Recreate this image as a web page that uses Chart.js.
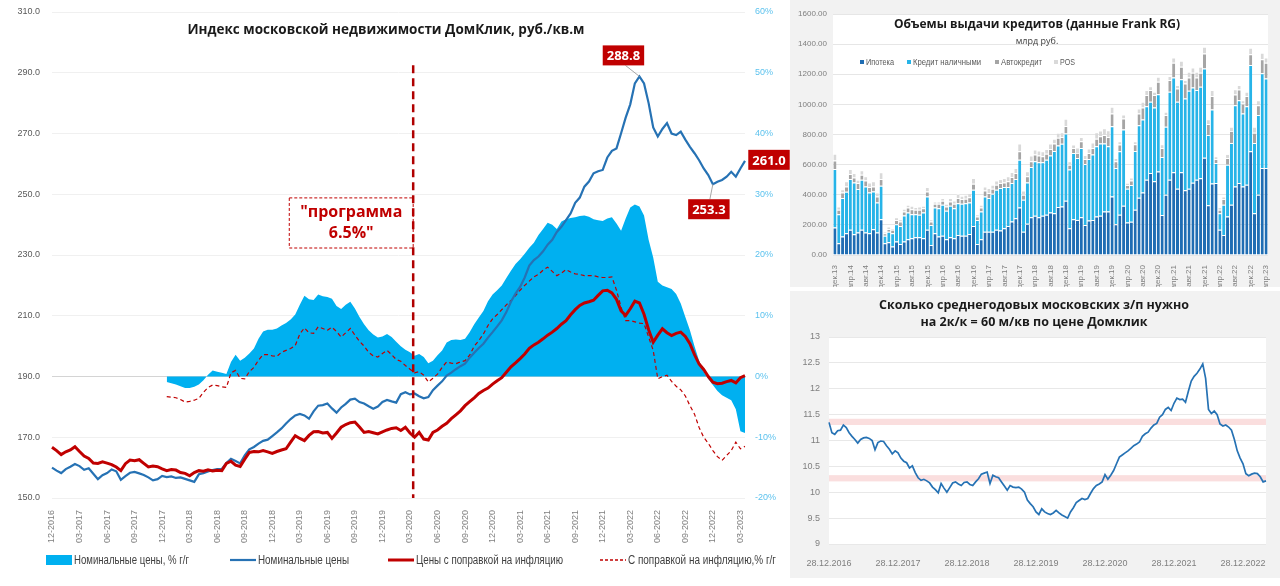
<!DOCTYPE html>
<html lang="ru"><head><meta charset="utf-8">
<script src="https://cdn.jsdelivr.net/npm/chart.js@4.4.0/dist/chart.umd.min.js"></script>
<style>
html,body{margin:0;padding:0;background:#fff;}
body{width:1280px;height:586px;position:relative;overflow:hidden;}
.box{position:absolute;}
#w1{left:0;top:0;width:790px;height:586px;}
#w2{left:790px;top:0;width:490px;height:287px;background:#f2f2f2;}
#w3{left:790px;top:291px;width:490px;height:287px;background:#f2f2f2;}
</style></head><body>
<div class="box" id="w1"><canvas id="c1" width="790" height="586"></canvas></div>
<div class="box" id="w2"><canvas id="c2" width="490" height="287"></canvas></div>
<div class="box" id="w3"><canvas id="c3" width="490" height="287"></canvas></div>
<script>
// ---------------- DATA: Moscow real estate index (half-month steps from Dec 2016) ----------------
const quarterTicks = ['12-2016','03-2017','06-2017','09-2017','12-2017','03-2018','06-2018','09-2018','12-2018','03-2019','06-2019','09-2019','12-2019','03-2020','06-2020','09-2020','12-2020','03-2021','06-2021','09-2021','12-2021','03-2022','06-2022','09-2022','12-2022','03-2023'];
const nominalPrice = [160.0,159.0,158.2,159.5,160.3,161.2,160.5,159.3,159.8,158.0,156.2,157.5,
158.2,159.4,158.8,156.0,157.2,158.3,158.6,158.1,157.6,156.8,155.8,156.2,157.3,156.9,157.1,156.6,156.8,156.3,155.8,155.3,157.8,158.2,158.7,
159.2,159.5,159.6,161.5,162.9,162.2,161.4,164.0,166.0,166.8,167.9,168.8,169.2,170.4,171.6,172.9,174.5,176.0,177.2,177.7,177.2,176.1,178.5,
180.4,180.6,181.1,179.5,178.1,179.8,181.0,182.4,182.7,181.6,181.1,180.2,179.4,180.1,181.6,182.3,181.8,181.4,184.2,184.8,184.1,184.4,183.5,
182.8,183.2,185.5,187.0,188.4,190.3,191.3,192.4,193.4,194.2,196.2,197.8,199.4,200.8,202.8,204.6,206.5,208.5,211.2,214.6,217.3,219.5,222.6,
226.5,228.3,229.5,231.2,233.4,235.0,237.6,239.3,241.5,243.7,247.2,248.9,252.5,254.2,256.9,257.6,258.0,262.1,264.3,265.1,270.1,275.2,279.6,
286.5,288.8,286.5,280.0,272.0,269.0,271.5,273.4,270.0,269.5,270.6,268.0,265.6,263.5,261.2,258.5,256.3,253.3,254.1,254.7,255.8,257.4,255.8,
258.5,261.0];
const realPrice = [166.7,165.6,164.3,165.2,165.8,166.9,165.3,163.8,163.0,161.5,161.4,161.9,
161.5,161.0,160.2,159.0,161.3,162.5,162.3,162.6,161.4,160.2,160.5,160.3,159.6,159.0,159.4,159.2,158.4,158.1,157.3,158.4,159.0,158.8,159.3,
158.9,159.1,159.0,161.4,162.1,160.8,160.4,162.8,165.0,165.3,165.2,165.6,165.2,164.7,165.3,165.8,166.2,168.4,170.5,169.6,168.9,170.6,171.8,
171.9,171.4,171.6,169.6,171.4,173.3,174.2,174.8,175.0,173.4,171.6,171.9,171.5,171.1,171.8,172.4,172.9,173.1,172.2,173.3,171.4,170.0,171.6,
169.4,169.1,171.6,172.4,173.6,174.6,176.1,177.4,178.7,180.4,181.7,183.0,184.4,185.4,186.2,187.5,188.6,189.6,191.4,193.2,194.5,195.9,197.4,
199.3,200.4,201.3,202.4,203.6,204.6,205.8,207.2,208.4,210.3,212.0,213.4,214.2,214.6,215.1,216.7,218.2,218.4,217.5,215.4,211.6,210.1,212.3,
214.8,214.2,210.5,205.4,201.3,203.6,205.7,204.4,203.5,204.2,204.6,203.2,200.8,197.2,194.1,192.3,190.0,188.1,187.6,187.8,188.3,188.7,187.9,
189.6,190.3];
const nominalYoY = [null,null,null,null,null,null,null,null,null,null,null,null,null,null,null,null,null,null,null,null,null,null,null,null,
null,-0.9,-1.1,-1.3,-1.6,-1.9,-1.9,-1.7,-1.3,-0.6,0.3,
1.0,0.8,0.6,0.4,2.4,3.6,2.6,3.1,3.8,4.6,6.2,7.4,7.7,7.7,7.9,8.4,8.8,9.4,10.2,11.8,13.3,12.7,12.6,
13.5,13.2,13.1,12.8,11.6,11.1,11.8,12.3,11.2,9.8,8.6,7.6,6.9,6.4,6.6,7.0,6.5,5.7,5.0,4.4,4.0,3.4,3.7,
3.2,2.2,2.6,3.5,4.3,5.6,6.0,6.1,6.0,6.2,7.3,8.6,9.7,10.8,12.4,13.5,14.2,15.0,16.2,17.4,18.5,19.3,20.2,
21.2,22.0,23.3,24.3,25.3,25.0,24.3,25.5,25.9,26.1,26.2,26.4,26.5,26.3,25.9,25.7,25.6,26.0,26.2,25.2,24.0,26.0,27.8,
28.3,28.0,26.5,22.5,19.6,15.6,15.0,14.7,14.4,13.6,12.0,9.8,7.6,5.0,2.6,0.8,-0.4,-1.4,-2.4,-3.1,-3.5,-3.9,-5.4,
-9.0,-9.3];
const realYoY = [null,null,null,null,null,null,null,null,null,null,null,null,null,null,null,null,null,null,null,null,null,null,null,null,
null,-3.3,-3.4,-3.5,-3.8,-4.2,-4.1,-3.9,-3.6,-2.6,-1.8,
-1.4,-1.5,-1.7,-1.8,0.6,1.0,-0.3,-0.4,0.8,1.5,2.7,3.6,3.6,3.4,3.3,4.0,4.3,4.6,5.1,7.0,8.0,7.2,7.1,
8.2,7.9,7.6,8.1,7.4,6.5,7.2,7.9,6.8,5.8,5.0,4.0,3.4,3.2,3.8,4.3,3.6,2.8,2.5,1.8,1.2,0.6,0.8,
0.2,-0.9,-0.3,0.4,1.5,2.4,2.2,2.1,2.4,2.6,3.5,5.0,5.9,7.0,8.4,9.5,10.2,11.0,11.8,12.5,13.3,14.2,15.0,
15.7,16.4,16.8,17.5,18.0,17.3,16.6,17.0,17.6,17.2,16.9,16.8,16.6,16.6,16.6,16.4,16.3,16.3,16.4,14.2,11.4,9.2,9.2,
9.0,8.8,8.7,6.5,4.3,-0.4,0.0,0.2,-0.8,-1.6,-2.2,-3.2,-4.8,-6.2,-8.4,-10.0,-11.0,-12.2,-13.2,-13.8,-13.0,-12.2,-10.8,
-11.9,-11.5];
const programIndex = 78.7;           // "программа 6.5%" start (half-month index)
const programBox = {from: 51.7, to: 78.7, top: 248.8, bottom: 232.3};

// ---------------- DATA: loan issuance (Frank RG), monthly Dec 2013 - Apr 2023 ----------------
const loanTicks = ['дек.13','апр.14','авг.14','дек.14','апр.15','авг.15','дек.15','апр.16','авг.16','дек.16','апр.17','авг.17','дек.17','апр.18','авг.18','дек.18','апр.19','авг.19','дек.19','апр.20','авг.20','дек.20','апр.21','авг.21','дек.21','апр.22','авг.22','дек.22','апр.23'];
const mortgage = [182,78,122,144,167,138,149,167,149,144,171,149,238,78,84,56,89,73,89,104,111,118,118,111,167,67,144,122,127,104,118,111,133,127,127,140,193,73,104,155,155,155,167,162,178,193,222,244,316,155,207,251,260,251,260,267,282,278,318,322,360,178,238,233,251,200,229,233,255,260,289,289,389,204,267,327,215,220,300,380,415,500,545,490,555,265,400,500,550,440,550,430,440,480,500,510,645,330,475,478,167,133,255,333,455,478,455,467,689,278,400,578,578];
const cashLoans = [389,193,256,276,337,344,289,333,306,271,251,200,222,49,71,88,115,120,173,178,160,153,149,171,222,133,171,189,206,189,209,200,211,213,217,209,240,160,185,234,223,252,266,282,273,258,256,260,317,212,275,333,362,364,355,366,378,412,409,416,447,389,440,411,460,404,409,434,467,480,451,433,466,374,422,506,225,245,390,482,485,488,472,490,513,385,451,584,629,577,616,609,650,632,595,607,594,466,491,133,111,200,345,411,540,550,485,521,572,466,529,628,594];
const autoLoans = [56,29,37,35,34,33,40,33,40,36,33,40,44,17,18,23,29,29,27,33,33,29,33,29,33,22,25,29,27,29,28,29,34,31,29,35,40,22,26,40,33,33,34,34,31,38,40,40,56,33,40,38,45,45,40,40,44,50,51,46,49,33,33,34,44,34,40,44,49,49,56,62,85,44,44,73,25,30,45,78,80,74,78,82,82,60,78,77,97,89,84,100,89,98,84,93,99,73,89,27,22,38,44,80,71,71,66,67,71,67,66,93,105];
const posLoans = [46,22,22,34,33,29,22,29,27,31,34,26,45,11,16,11,18,16,18,18,23,18,22,16,29,16,15,15,18,18,23,22,29,22,27,27,38,16,18,26,33,27,28,26,29,33,33,34,51,29,34,38,33,33,34,31,36,31,33,31,49,22,22,35,29,26,29,36,44,37,45,44,44,22,22,27,15,20,20,33,37,33,26,22,33,25,22,27,36,22,40,22,38,35,38,40,45,33,40,17,18,18,27,27,34,29,22,29,44,40,33,44,35];

// ---------------- DATA: salaries needed for 60 m2 (half-month steps from 28.12.2016) ----------------
const yearTicks = ['28.12.2016','28.12.2017','28.12.2018','28.12.2019','28.12.2020','28.12.2021','28.12.2022'];
const salaryYears = [11.35,11.15,11.12,11.19,11.2,11.3,11.25,11.15,11.08,11.02,10.95,11.02,11.05,11.06,11.04,11.0,10.82,10.96,10.99,10.98,10.9,10.83,10.74,10.8,10.76,10.66,10.6,10.57,10.47,10.51,10.38,10.28,10.23,10.25,10.22,10.18,10.1,10.05,9.99,10.17,10.08,10.0,10.09,10.18,10.2,10.16,10.13,10.19,10.2,10.15,10.13,10.2,10.26,10.35,10.37,10.39,10.17,10.33,10.3,10.28,10.2,10.12,10.04,10.13,10.1,10.09,10.1,10.06,10.0,9.85,9.78,9.72,9.62,9.57,9.68,9.62,9.59,9.57,9.6,9.65,9.6,9.56,9.53,9.5,9.62,9.7,9.8,9.84,9.88,9.86,9.88,9.98,10.07,10.13,10.16,10.2,10.34,10.25,10.33,10.42,10.55,10.68,10.72,10.76,10.8,10.85,10.9,10.93,10.97,11.08,11.13,11.16,11.24,11.3,11.33,11.45,11.5,11.6,11.64,11.58,11.72,11.82,11.79,11.8,11.74,11.95,12.15,12.24,12.3,12.38,12.48,12.2,11.6,11.52,11.57,11.5,11.32,11.28,11.3,11.26,11.2,11.02,10.8,10.66,10.55,10.36,10.32,10.35,10.37,10.36,10.3,10.2,10.22];
const bands = [{from: 11.30, to: 11.42}, {from: 10.21, to: 10.33}];

// ---------------- helpers ----------------
const FONT = "'Open Sans','Liberation Sans',sans-serif";
const TICKFONT = "'Liberation Sans',sans-serif";
Chart.defaults.font.family = FONT;
Chart.defaults.animation = false;
const noPad = s => { s.paddingTop = 0; s.paddingBottom = 0; s.paddingLeft = 0; s.paddingRight = 0; };

const pricePeriods = nominalPrice.map((_, j) => {
  const m = 11 + Math.floor(j / 2);
  return String(m % 12 + 1).padStart(2, '0') + '-' + (2016 + Math.floor(m / 12)) + (j % 2 ? ' II' : ' I');
});
const ruMonths = ['янв','фев','мар','апр','май','июн','июл','авг','сен','окт','ноя','дек'];
const loanMonths = mortgage.map((_, i) => { const m = 11 + i; return ruMonths[m % 12] + '.' + String(13 + Math.floor(m / 12)); });
const salaryDates = salaryYears.map((_, i) => 'p' + i);

// ---------------- Chart 1 ----------------
function tag(ctx, text, cx, cy) {
  ctx.font = "bold 13px " + FONT;
  const w = ctx.measureText(text).width + 8, h = 20;
  ctx.fillStyle = '#c00000';
  ctx.fillRect(cx - w / 2, cy - h / 2, w, h);
  ctx.fillStyle = '#ffffff';
  ctx.textAlign = 'center'; ctx.textBaseline = 'middle';
  ctx.fillText(text, cx, cy + 1);
}
function leader(ctx, x0, y0, x1, y1) {
  ctx.strokeStyle = '#a6a6a6'; ctx.lineWidth = 1; ctx.setLineDash([]);
  ctx.beginPath(); ctx.moveTo(x0, y0); ctx.lineTo(x1, y1); ctx.stroke();
}
// legend slots: start x and text width of each entry (layout only)
const legendSlots = [{x: 46, w: 115}, {x: 230, w: 91}, {x: 388, w: 147}, {x: 600, w: 148}];
const leftAnno = {
  id: 'leftAnno',
  afterDatasetsDraw(chart) {
    const {ctx, chartArea: a, scales: {x, y}} = chart;
    ctx.save();
    const xv = x.getPixelForValue(programIndex);
    ctx.strokeStyle = '#b00000'; ctx.lineWidth = 2.5; ctx.setLineDash([8, 5]);
    ctx.beginPath(); ctx.moveTo(xv, y.getPixelForValue(292.5)); ctx.lineTo(xv, a.bottom); ctx.stroke();
    const bx0 = x.getPixelForValue(programBox.from), bx1 = x.getPixelForValue(programBox.to);
    const by0 = y.getPixelForValue(programBox.top), by1 = y.getPixelForValue(programBox.bottom);
    ctx.lineWidth = 1; ctx.setLineDash([3, 2]); ctx.strokeStyle = '#c00000';
    ctx.strokeRect(bx0, by0, bx1 - bx0, by1 - by0);
    ctx.setLineDash([]);
    ctx.fillStyle = '#c00000'; ctx.font = "bold 16px " + FONT; ctx.textAlign = 'center'; ctx.textBaseline = 'middle';
    ctx.fillText('"программа', (bx0 + bx1) / 2, by0 + 15);
    ctx.fillText('6.5%"', (bx0 + bx1) / 2, by0 + 36);
    let pk = 0; nominalPrice.forEach((v, i) => { if (v > nominalPrice[pk]) pk = i; });
    let mn = pk + 1; for (let i = pk + 1; i < nominalPrice.length; i++) if (nominalPrice[i] < nominalPrice[mn]) mn = i;
    const last = nominalPrice.length - 1;
    const ppx = x.getPixelForValue(pk), ppy = y.getPixelForValue(nominalPrice[pk]);
    leader(ctx, ppx, ppy, ppx - 14, ppy - 11);
    tag(ctx, nominalPrice[pk].toFixed(1), ppx - 16, ppy - 21);
    const mpx = x.getPixelForValue(mn), mpy = y.getPixelForValue(nominalPrice[mn]);
    leader(ctx, mpx, mpy, mpx - 3, mpy + 15);
    tag(ctx, nominalPrice[mn].toFixed(1), mpx - 4, mpy + 25);
    const lpx = x.getPixelForValue(last), lpy = y.getPixelForValue(nominalPrice[last]);
    tag(ctx, nominalPrice[last].toFixed(1), lpx + 24, lpy - 1);
    ctx.fillStyle = '#1a1a1a'; ctx.font = "bold 13.5px " + FONT; ctx.textAlign = 'center'; ctx.textBaseline = 'middle';
    ctx.fillText('Индекс московской недвижимости ДомКлик, руб./кв.м', 386, 30);
    ctx.restore();
  },
  afterDraw(chart) {
    const {ctx} = chart;
    const ly = 560;
    ctx.save();
    chart.data.datasets.forEach((ds, i) => {
      const s = legendSlots[i];
      if (ds.fill) {
        ctx.fillStyle = ds.backgroundColor; ctx.fillRect(s.x, ly - 5, 26, 10);
      } else {
        ctx.strokeStyle = ds.borderColor; ctx.lineWidth = Math.max(ds.borderWidth, 1.6);
        ctx.setLineDash(ds.borderDash ? [3, 2] : []);
        ctx.beginPath(); ctx.moveTo(s.x, ly); ctx.lineTo(s.x + 26, ly); ctx.stroke();
        ctx.setLineDash([]);
      }
      ctx.fillStyle = '#404040'; ctx.font = "12px " + TICKFONT; ctx.textAlign = 'left'; ctx.textBaseline = 'middle';
      ctx.fillText(ds.label, s.x + 28, ly + 1, s.w);
    });
    ctx.restore();
  }
};

new Chart(document.getElementById('c1'), {
  type: 'line',
  data: {
    labels: pricePeriods,
    datasets: [
      {label: 'Номинальные цены, % г/г', data: nominalYoY, yAxisID: 'y1', fill: 'origin', backgroundColor: '#00b0f0', borderColor: '#00b0f0', borderWidth: 0, pointRadius: 0, order: 4},
      {label: 'Номинальные цены', data: nominalPrice, yAxisID: 'y', fill: false, borderColor: '#2672b4', backgroundColor: '#2672b4', borderWidth: 2.2, pointRadius: 0, order: 2},
      {label: 'Цены с поправкой на инфляцию', data: realPrice, yAxisID: 'y', fill: false, borderColor: '#c00000', backgroundColor: '#c00000', borderWidth: 3, pointRadius: 0, order: 1},
      {label: 'С поправкой на инфляцию,% г/г', data: realYoY, yAxisID: 'y1', fill: false, borderColor: '#c00000', backgroundColor: '#c00000', borderWidth: 1.2, borderDash: [4, 3], pointRadius: 0, order: 3}
    ]
  },
  options: {
    responsive: false, events: [],
    layout: {padding: {top: 12, left: 0, right: 0, bottom: 38}},
    plugins: {tooltip: {enabled: false}, legend: {display: false}},
    scales: {
      x: {type: 'category', offset: false, grid: {display: false}, border: {display: false},
        ticks: {autoSkip: false, maxRotation: 90, minRotation: 90, padding: 4, color: '#7f7f7f', font: {size: 9, family: TICKFONT},
          callback: (v, i) => (i % 6 === 0 && quarterTicks[i / 6]) ? quarterTicks[i / 6] : null},
        afterFit: s => { s.height = 50; noPad(s); }},
      y: {position: 'left', min: 150, max: 310,
        ticks: {stepSize: 20, padding: 12, color: '#595959', font: {size: 9, family: TICKFONT}, callback: v => v.toFixed(1)},
        grid: {drawTicks: false, color: c => (c.tick && c.tick.value === 190) ? '#d4d4d4' : '#f0f0f0'},
        border: {display: false}, afterFit: s => { s.width = 52; noPad(s); }},
      y1: {position: 'right', min: -20, max: 60,
        ticks: {stepSize: 10, padding: 10, color: '#5cc2ee', font: {size: 9, family: TICKFONT}, callback: v => v + '%'},
        grid: {display: false, drawTicks: false}, border: {display: false}, afterFit: s => { s.width = 45; noPad(s); }}
    }
  },
  plugins: [leftAnno]
});

// ---------------- Chart 2 ----------------
const loanLegendSlots = [{x: 70, w: 28}, {x: 117, w: 68}, {x: 205, w: 41}, {x: 264, w: 15}];
const loanPanel = {
  id: 'loanPanel',
  beforeDraw(chart) {
    const {ctx, chartArea: a} = chart;
    ctx.save(); ctx.fillStyle = '#ffffff'; ctx.fillRect(a.left, a.top, a.right - a.left, a.bottom - a.top); ctx.restore();
  },
  afterDraw(chart) {
    const {ctx} = chart;
    ctx.save();
    ctx.textAlign = 'center'; ctx.textBaseline = 'middle'; ctx.fillStyle = '#1a1a1a';
    ctx.font = "bold 12px " + FONT;
    ctx.fillText('Объемы выдачи кредитов (данные Frank RG)', 247, 25);
    ctx.font = "9px " + FONT; ctx.fillStyle = '#404040';
    ctx.fillText('млрд руб.', 247, 41);
    ctx.font = "8.5px " + TICKFONT; ctx.textAlign = 'left';
    chart.data.datasets.forEach((ds, i) => {
      const s = loanLegendSlots[i];
      ctx.fillStyle = ds.backgroundColor; ctx.fillRect(s.x, 60, 4, 4);
      ctx.fillStyle = '#595959'; ctx.fillText(ds.label, s.x + 6, 62.5, s.w);
    });
    ctx.restore();
  }
};
new Chart(document.getElementById('c2'), {
  type: 'bar',
  data: {
    labels: loanMonths,
    datasets: [
      {label: 'Ипотека', data: mortgage, backgroundColor: '#1f6db3'},
      {label: 'Кредит наличными', data: cashLoans, backgroundColor: '#27b4e8'},
      {label: 'Автокредит', data: autoLoans, backgroundColor: '#a5a5a5'},
      {label: 'POS', data: posLoans, backgroundColor: '#d9d9d9'}
    ]
  },
  options: {
    responsive: false, events: [],
    layout: {padding: {top: 14, right: 12, left: 0, bottom: 0}},
    datasets: {bar: {barPercentage: 1, categoryPercentage: 0.8, borderColor: '#ffffff', borderWidth: {top: 1, left: 0, right: 0, bottom: 0}}},
    plugins: {legend: {display: false}, tooltip: {enabled: false}},
    scales: {
      x: {stacked: true, grid: {display: false}, border: {display: false},
        ticks: {autoSkip: false, maxRotation: 90, minRotation: 90, padding: 2, color: '#7f7f7f', font: {size: 8, family: TICKFONT},
          callback: (v, i) => (i % 4 === 0 && loanTicks[i / 4]) ? loanTicks[i / 4] : null},
        afterFit: s => { s.height = 32; noPad(s); }},
      y: {stacked: true, min: 0, max: 1600,
        ticks: {stepSize: 200, padding: 6, color: '#7f7f7f', font: {size: 8, family: TICKFONT}, callback: v => v.toFixed(2)},
        grid: {drawTicks: false, color: '#e6e6e6'}, border: {display: false}, afterFit: s => { s.width = 43; noPad(s); }}
    }
  },
  plugins: [loanPanel]
});

// ---------------- Chart 3 ----------------
const salaryPanel = {
  id: 'salaryPanel',
  beforeDraw(chart) {
    const {ctx, chartArea: a} = chart;
    ctx.save(); ctx.fillStyle = '#ffffff'; ctx.fillRect(a.left, a.top, a.right - a.left, a.bottom - a.top); ctx.restore();
  },
  beforeDatasetsDraw(chart) {
    const {ctx, chartArea: a, scales: {y}} = chart;
    ctx.save(); ctx.fillStyle = 'rgba(240,160,160,0.35)';
    bands.forEach(b => { const t = y.getPixelForValue(b.to), btm = y.getPixelForValue(b.from); ctx.fillRect(a.left, t, a.right - a.left, btm - t); });
    ctx.restore();
  },
  afterDraw(chart) {
    const {ctx} = chart;
    ctx.save(); ctx.textAlign = 'center'; ctx.textBaseline = 'middle'; ctx.fillStyle = '#1a1a1a';
    ctx.font = "bold 12.5px " + FONT;
    ctx.fillText('Сколько среднегодовых московских з/п нужно', 244, 14);
    ctx.fillText('на 2к/к = 60 м/кв по цене Домклик', 244, 31);
    ctx.restore();
  }
};
new Chart(document.getElementById('c3'), {
  type: 'line',
  data: {labels: salaryDates, datasets: [{label: 'з/п', data: salaryYears, borderColor: '#2672b4', borderWidth: 1.7, pointRadius: 0, fill: false}]},
  options: {
    responsive: false, events: [],
    layout: {padding: {top: 46, right: 14, left: 0, bottom: 0}},
    plugins: {legend: {display: false}, tooltip: {enabled: false}},
    scales: {
      x: {type: 'category', offset: false, grid: {display: false}, border: {display: false},
        ticks: {autoSkip: false, maxRotation: 0, minRotation: 0, padding: 6, color: '#7f7f7f', font: {size: 9, family: TICKFONT},
          callback: (v, i) => (i % 24 === 0 && yearTicks[i / 24]) ? yearTicks[i / 24] : null},
        afterFit: s => { s.height = 34; noPad(s); }},
      y: {min: 9, max: 13,
        ticks: {stepSize: 0.5, padding: 9, color: '#7f7f7f', font: {size: 9, family: TICKFONT}, callback: v => String(Math.round(v * 10) / 10)},
        grid: {drawTicks: false, color: '#e8e8e8'}, border: {display: false}, afterFit: s => { s.width = 39; noPad(s); }}
    }
  },
  plugins: [salaryPanel]
});
</script>
</body></html>
